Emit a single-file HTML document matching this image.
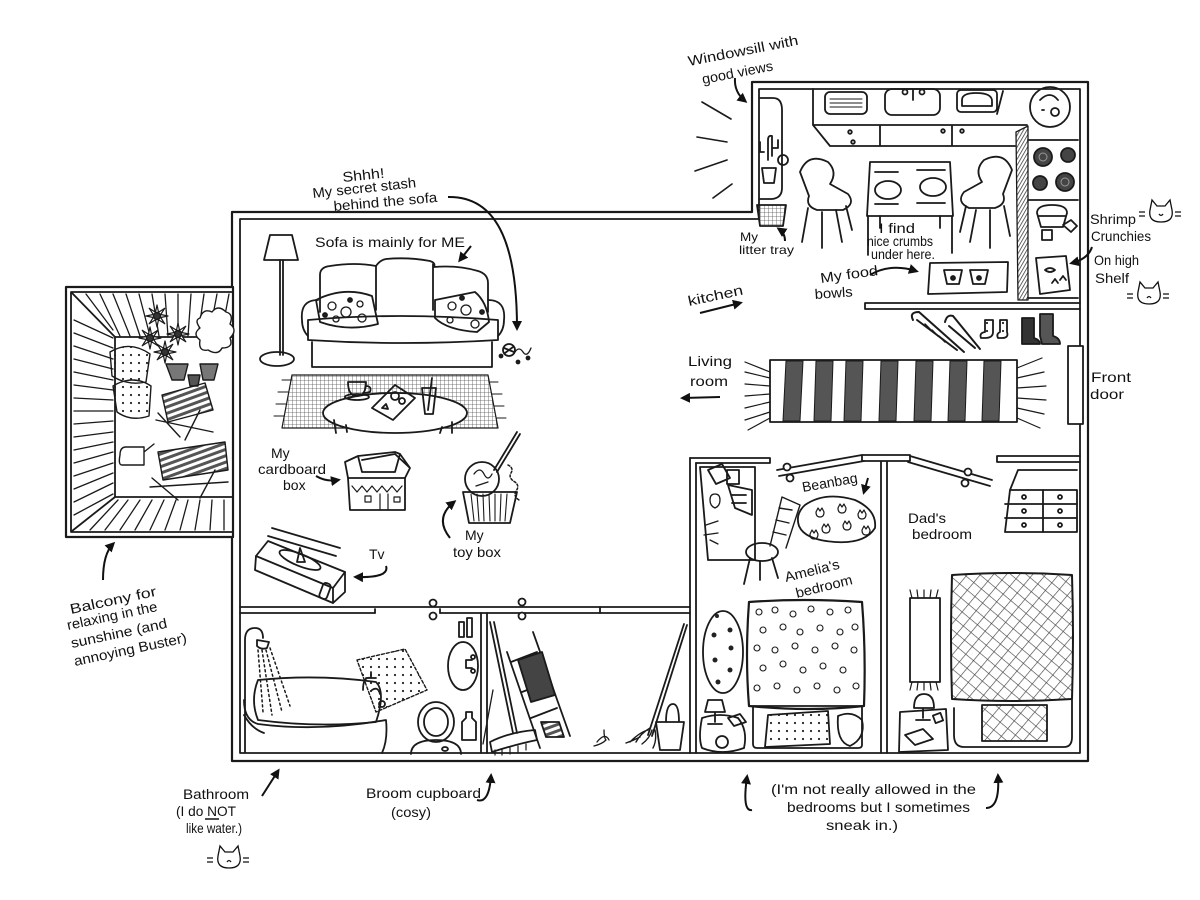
<!DOCTYPE html>
<html><head><meta charset="utf-8"><style>
html,body{margin:0;padding:0;background:#fff;}
svg{display:block}
text{font-family:"Liberation Sans",sans-serif;font-size:14px;fill:#111}
.s{font-size:12px}
</style></head><body>
<svg width="1200" height="900" viewBox="0 0 1200 900" xmlns="http://www.w3.org/2000/svg">
<defs>
<marker id="ah" viewBox="0 0 10 10" refX="7" refY="5" markerWidth="5" markerHeight="5" orient="auto"><path d="M0,0 L10,5 L0,10 Z" fill="#111"/></marker>
<pattern id="xh" width="10" height="10" patternUnits="userSpaceOnUse" patternTransform="rotate(40)"><path d="M0,0 H10 M0,0 V10" stroke="#444" stroke-width="1.3"/></pattern>
<pattern id="grid" width="4" height="4" patternUnits="userSpaceOnUse"><path d="M0,0H4M0,0V4" stroke="#555" stroke-width="0.8"/></pattern>
<pattern id="hatch" width="3" height="3" patternUnits="userSpaceOnUse" patternTransform="rotate(30)"><path d="M0,0V3" stroke="#333" stroke-width="1.5"/></pattern>
<pattern id="dots" width="8" height="8" patternUnits="userSpaceOnUse"><circle cx="3" cy="3" r="1.1" fill="#222"/></pattern>
<pattern id="stripe" width="6" height="6" patternUnits="userSpaceOnUse" patternTransform="rotate(-20)"><rect width="6" height="3" fill="#555"/></pattern>
<g id="fl"><path d="M11,0 L3.7,1.5 L7.8,7.8 L1.5,3.7 L0,11 L-1.5,3.7 L-7.8,7.8 L-3.7,1.5 L-11,0 L-3.7,-1.5 L-7.8,-7.8 L-1.5,-3.7 L0,-11 L1.5,-3.7 L7.8,-7.8 L3.7,-1.5 Z" fill="#fff" stroke="#1a1a1a" stroke-width="1.2"/><circle r="3.5" fill="#333"/></g>
</defs>

<g fill="none" stroke="#1a1a1a" stroke-width="1.8" stroke-linecap="round" stroke-linejoin="round">

<!-- ===== OUTER WALLS ===== -->
<path d="M232,212 H752 V82 H1088 V761 H232 Z" stroke-width="2.2"/>
<path d="M240,219 H759 V89 H1080 V753 H240 Z"/>
<rect x="1068" y="346" width="15" height="78" fill="#fff"/>

<!-- ===== BALCONY ===== -->
<rect x="66" y="287" width="167" height="250" fill="#fff" stroke-width="2.2"/>
<rect x="71" y="292" width="162" height="240"/>
<path d="M115,337 H233 M115,337 V497 H233"/>
<path d="M72,293 L115,337 M72,531 L115,497"/>
<g stroke-width="1.3">
<path d="M86,294 L113,330 M100,294 L120,336 M113,294 L130,336 M126,294 L140,336 M139,294 L150,336 M152,294 L159,336 M165,294 L168,336 M178,294 L178,336 M191,294 L188,336 M204,294 L198,336 M217,294 L209,336 M229,294 L221,336"/>
<path d="M74,320 L113,338 M74,333 L113,348 M74,346 L113,359 M74,359 L113,369 M74,372 L113,380 M74,385 L113,390 M74,398 L113,400 M74,411 L113,411 M74,424 L113,421 M74,437 L113,432 M74,450 L113,442 M74,463 L113,452 M74,476 L113,463 M74,489 L113,473 M74,502 L113,483 M74,515 L113,494"/>
<path d="M90,530 L118,500 M105,530 L128,500 M120,530 L140,500 M135,530 L152,500 M150,530 L164,500 M165,530 L176,500 M180,530 L188,500 M195,530 L200,500 M210,530 L212,500 M224,530 L224,500"/>
</g>
<!-- balcony items -->
<g stroke-width="1.4">
<use href="#fl" x="157" y="316"/>
<use href="#fl" x="150" y="338"/>
<use href="#fl" x="178" y="334"/>
<use href="#fl" x="165" y="352"/>
<path d="M166,364 L172,380 H184 L188,364 Z" fill="#777"/>
<path d="M200,364 L203,380 H214 L218,364 Z" fill="#777"/>
<path d="M188,375 L190,386 H198 L200,375 Z" fill="#555"/>
<path d="M200,318 q3,-10 12,-6 q6,-8 14,0 q8,2 4,12 q8,6 0,14 q4,10 -8,10 q-4,8 -14,2 q-10,2 -8,-10 q-8,-6 0,-12 q-6,-8 0,-10 z" fill="#fff"/>
<path d="M110,352 q20,-12 40,2 l-4,28 q-18,4 -34,-6 z" fill="url(#dots)"/>
<path d="M113,386 q20,-12 38,0 l-2,30 q-18,6 -32,-4 z" fill="url(#dots)"/>
<path d="M162,395 L205,383 L213,410 L168,422 Z" fill="url(#stripe)"/>
<path d="M156,420 L213,432 M158,413 L180,437 M200,410 L185,440"/>
<path d="M158,452 L225,442 L228,470 L163,480 Z" fill="url(#stripe)"/>
<path d="M150,487 L228,482 M152,478 L178,500 M215,470 L200,498"/>
<path d="M120,455 q0,-8 6,-8 h18 v18 h-22 q-4,0 -2,-10 M144,452 l10,-8"/>
</g>

<!-- ===== INTERIOR WALLS ===== -->
<path d="M240,607 H690 M240,613 H375 M440,613 H690"/>
<path d="M375,609 V613 M440,609 V613 M600,607 V613"/>
<circle cx="433" cy="603" r="3.5" fill="#fff"/><circle cx="433" cy="616" r="3.5" fill="#fff"/>
<circle cx="522" cy="602" r="3.5" fill="#fff"/><circle cx="522" cy="616" r="3.5" fill="#fff"/>
<path d="M481,613 V753 M487,613 V753"/>
<path d="M690,458 V753 M696,463 V753"/>
<path d="M881,462 V753 M887,462 V753"/>
<path d="M690,458 H770 M696,463 H770 M770,458 V463"/>
<path d="M777,470 L862,455 M779,476 L864,461" />
<circle cx="787" cy="467" r="3.5" fill="#fff"/><circle cx="790" cy="478" r="3.5" fill="#fff"/>
<path d="M862,455 H910 V461 H862 Z"/>
<path d="M910,456 L992,480 M908,462 L990,486"/>
<circle cx="968" cy="472" r="3.5" fill="#fff"/><circle cx="965" cy="483" r="3.5" fill="#fff"/>
<path d="M997,456 H1080 M997,462 H1080 M997,456 V462"/>
<path d="M865,303 H1080 M865,309 H1080 M865,303 V309"/>

<!-- ===== KITCHEN ===== -->
<path d="M702,102 L731,119 M697,137 L727,142 M695,171 L727,160 M713,198 L732,184" stroke-width="1.6"/>
<path d="M760,98 H773 Q782,98 782,110 V188 Q782,198 772,199 H760"/>
<path d="M768,160 v-20 q0,-5 4,-4 v20 M772,148 h6 v-8 M764,152 h-4 v-10"/>
<circle cx="783" cy="160" r="5"/>
<path d="M762,168 h14 l-2,15 h-10 z"/>
<path d="M757,205 H786 L783,226 H760 Z" fill="url(#grid)"/>
<path d="M813,89 V125 L830,146 H1015 M813,125 H1027 M880,125 V146 M952,125 V146"/>
<circle cx="850" cy="132" r="1.8"/><circle cx="853" cy="142" r="1.8"/><circle cx="943" cy="131" r="1.8"/><circle cx="962" cy="131" r="1.8"/>
<rect x="825" y="92" width="42" height="22" rx="5"/>
<path d="M830,99 H862 M830,103 H862 M830,107 H862" stroke-width="1"/>
<rect x="885" y="89" width="55" height="26" rx="7"/>
<circle cx="905" cy="92" r="2.5"/><circle cx="922" cy="92" r="2.5"/><path d="M913,90 V100"/>
<rect x="957" y="90" width="40" height="22" rx="4"/>
<path d="M962,100 q0,-7 14,-7 q16,0 16,8 v5 h-30 z"/>
<path d="M1003,91 L997,114"/>
<circle cx="1050" cy="107" r="20"/>
<path d="M1040,100 q10,-10 18,0 M1042,110 h2 M1055,112 m-4,0 a4,4 0 1,0 8,0 a4,4 0 1,0 -8,0"/>
<path d="M1016,132 L1028,126 V300 H1018 Z" fill="url(#hatch)" stroke-width="1.3"/>
<path d="M1028,140 H1078 M1028,200 H1078 M1028,298 H1078"/>
<circle cx="1043" cy="157" r="9" fill="#444"/><circle cx="1068" cy="155" r="7" fill="#444"/>
<circle cx="1040" cy="183" r="7" fill="#444"/><circle cx="1065" cy="182" r="9" fill="#444"/>
<circle cx="1043" cy="157" r="4" stroke="#999" stroke-width="1"/><circle cx="1065" cy="182" r="4" stroke="#999" stroke-width="1"/>
<path d="M1037,213 q0,-8 15,-8 q15,0 15,8 l-4,14 h-22 z M1039,216 H1065"/>
<path d="M1063,225 l8,-5 l6,6 l-6,6 z M1042,230 h10 v10 h-10 z"/>
<path d="M1036,258 L1066,256 L1070,290 L1040,294 Z"/>
<path d="M1045,270 q5,-4 10,0 q-5,4 -10,0 M1052,283 l3,-4 l3,4 M1060,280 l3,-4 l3,4"/>
<path d="M870,162 H950 L953,216 H867 Z"/>
<ellipse cx="888" cy="190" rx="13" ry="9"/><ellipse cx="933" cy="187" rx="13" ry="9"/>
<path d="M875,172 H898 M917,170 H945 M875,204 H898 M917,203 H945"/>
<path d="M868,216 V255 M952,216 V253 M880,216 V228 M940,216 V228"/>
<path d="M800,172 q8,-20 28,-10 q10,10 2,22 l18,10 q8,10 -5,16 h-26 q-12,-4 -8,-14 z"/>
<path d="M808,208 L802,242 M822,212 V248 M836,210 L842,242 M846,206 L852,230"/>
<path d="M1012,170 q-8,-20 -28,-10 q-10,10 -2,22 l-18,10 q-8,10 5,16 h26 q12,-4 8,-14 z"/>
<path d="M1004,206 L1010,236 M990,210 V248 M976,210 L970,242 M966,206 L960,232"/>
<path d="M930,263 L1008,262 L1007,292 L928,294 Z"/>
<path d="M944,270 h18 l-3,14 h-12 z M970,270 h18 l-3,14 h-12 z"/>
<circle cx="953" cy="278" r="2" fill="#222"/><circle cx="979" cy="278" r="2" fill="#222"/>
<path d="M913,320 q-4,-8 6,-8 l45,40 M917,320 l40,30 M945,322 q2,-8 8,-6 l27,33 M949,326 l26,22" stroke-width="2"/>
<path d="M925,324 l6,6 M932,330 l6,6 M939,336 l6,6" stroke-width="1.5"/>
<path d="M985,320 h8 v12 q0,6 -8,6 h-4 q-2,-5 4,-6 z M1000,320 h7 v12 q2,6 -5,6 h-4 q-2,-4 2,-6 z" fill="url(#dots)"/>
<path d="M1022,318 h12 v20 q6,2 6,6 h-18 z" fill="#333"/>
<path d="M1040,314 h13 v22 q7,2 7,8 h-18 q-2,-8 -2,-8 z" fill="#555"/>
<path d="M745,362 L770,372 M745,372 L770,378 M745,384 L770,386 M745,396 L770,394 M745,408 L770,402 M745,420 L770,412 M748,430 L770,418" stroke-width="1.2"/>
<path d="M1017,368 L1042,358 M1017,378 L1044,372 M1017,388 L1046,386 M1017,398 L1046,400 M1017,408 L1044,414 M1017,418 L1040,428" stroke-width="1.2"/>
<rect x="770" y="360" width="247" height="62"/>
<g fill="#555" stroke-width="1">
<path d="M786,361 h17 l-3,60 h-17 z"/><path d="M816,361 h17 l-2,60 h-17 z"/><path d="M846,361 h17 l-2,60 h-17 z"/>
<path d="M881,361 h17 l-2,60 h-17 z"/><path d="M916,361 h17 l-2,60 h-17 z"/><path d="M950,361 h17 l-2,60 h-17 z"/><path d="M984,361 h17 l-2,60 h-17 z"/>
</g>

<!-- ===== LIVING ROOM ===== -->
<path d="M270,235 H292 L298,260 H264 Z"/>
<path d="M280,260 V355 M283,260 V355"/>
<ellipse cx="277" cy="359" rx="17" ry="7"/>
<path d="M320,312 V275 q0,-8 10,-9 q25,-4 46,0 q4,-6 10,-7 q22,-2 44,2 q6,2 4,6 q24,-2 44,4 q10,3 10,12 V312"/>
<path d="M376,266 V310 M433,264 V310"/>
<path d="M318,300 q-18,0 -16,20 q0,10 6,16 M488,300 q18,0 16,20 q0,10 -6,16"/>
<path d="M308,320 q90,-8 190,0 v20 q-95,6 -190,0 z"/>
<path d="M312,342 V367 H492 V342"/>
<path d="M316,300 q28,-14 56,-4 l6,28 q-30,8 -58,-2 z"/>
<g fill="none" stroke-width="1.3"><circle cx="332" cy="306" r="4"/><circle cx="346" cy="312" r="5"/><circle cx="360" cy="304" r="3"/><circle cx="336" cy="319" r="3"/><circle cx="362" cy="318" r="4"/></g>
<circle cx="350" cy="300" r="2" fill="#222"/><circle cx="325" cy="315" r="2" fill="#222"/>
<path d="M435,300 l40,-8 q12,10 14,30 l-12,10 q-30,-2 -42,-14 z"/>
<g fill="none" stroke-width="1.3"><circle cx="452" cy="306" r="4"/><circle cx="466" cy="310" r="5"/><circle cx="475" cy="324" r="4"/><circle cx="450" cy="320" r="3"/></g>
<circle cx="462" cy="298" r="2" fill="#222"/><circle cx="482" cy="312" r="2" fill="#222"/>
<circle cx="509" cy="350" r="6"/><path d="M504,348 l10,4 M505,353 l8,-6"/>
<path d="M515,352 q4,-6 8,0 q4,6 8,-4" stroke-width="1.3"/>
<circle cx="501" cy="356" r="1.5" fill="#222"/><circle cx="518" cy="362" r="1.5" fill="#222"/><circle cx="528" cy="358" r="1.5" fill="#222"/>
<path d="M292,375 H488 L498,428 H282 Z" fill="url(#grid)" stroke-width="1.2"/>
<path d="M282,380 l10,0 M278,392 l10,0 M276,404 l10,0 M274,416 l10,0 M498,382 l-8,0 M502,394 l-10,0 M504,406 l-10,0 M506,418 l-10,0" stroke-width="1"/>
<ellipse cx="395" cy="413" rx="72" ry="20" fill="#fff"/>
<path d="M334,420 L336,433 M346,425 L347,432 M442,427 L440,433 M452,422 L452,433"/>
<path d="M348,382 h18 q0,14 -9,14 q-9,0 -9,-14 z M366,386 q6,0 4,6 l-5,1"/>
<ellipse cx="357" cy="397" rx="12" ry="3"/>
<path d="M372,408 L395,385 L415,398 L393,420 Z"/>
<circle cx="395" cy="396" r="4"/><circle cx="402" cy="401" r="3"/><path d="M382,408 l4,-4 l2,5 z"/>
<path d="M422,388 h14 l-3,26 h-8 z M432,378 L428,410"/>
<path d="M348,478 H405 V510 H350 Z"/>
<path d="M348,478 L345,462 L358,456 L362,472 M362,472 H395 L400,454 L410,468 L405,478 M362,460 L395,454 M395,454 L410,468 M362,472 L358,456 L395,452 L400,454"/>
<path d="M352,486 l5,6 l5,-6 l5,6 l5,-6 l5,6 l5,-6 l5,6 l5,-6 l5,6 l5,-6" stroke-width="1.2"/>
<path d="M365,496 h6 v6 h-6 z M380,494 v16 M388,494 v16 M394,497 h6 v5 h-6 z" stroke-width="1.2"/>
<path d="M463,492 H517 L510,523 H469 Z"/>
<path d="M471,494 L474,521 M477,494 L479,521 M483,494 L484,521 M489,494 L490,521 M495,494 L495,521 M501,494 L500,521 M507,494 L505,521" stroke-width="1.1"/>
<circle cx="482" cy="479" r="17"/>
<path d="M474,474 q6,-8 10,0 q4,8 8,0 M476,486 l12,-4" stroke-width="1.3"/>
<path d="M494,470 L517,432 M497,472 L520,434"/>
<path d="M508,465 q6,3 3,8 q-3,5 4,9 q5,4 1,9 q-3,5 3,9" stroke-width="1.5" stroke-dasharray="2 2"/>
<path d="M256,556 L268,541 L345,572 L345,592 L333,603 L255,570 Z"/>
<path d="M256,556 L333,588 L345,572 M333,588 V603"/>
<path d="M272,528 L340,548 M268,536 L336,556"/>
<ellipse cx="300" cy="560" rx="22" ry="6" transform="rotate(22 300 560)"/>
<path d="M300,548 L297,562 H305 Z"/>
<rect x="321" y="583" width="8" height="16" rx="3" transform="rotate(20 325 591)"/>

<!-- ===== BATHROOM ===== -->
<path d="M245,752 V640 q0,-12 10,-12 q8,0 8,10"/>
<path d="M257,640 l12,2 l-2,6 q-6,2 -10,-2 z"/>
<path d="M262,650 L272,715 M266,650 L282,712 M270,648 L290,706 M258,650 L263,712" stroke-dasharray="2 3" stroke-width="1.5"/>
<path d="M258,680 q60,-6 118,2 q10,10 0,40 q-58,6 -118,-2 q-8,-20 0,-40 z"/>
<path d="M244,700 q0,20 14,24 q60,8 128,-4 q2,20 -4,33 M244,715 q8,14 20,18"/>
<path d="M363,690 q0,-14 8,-12 v-6 M366,678 h10 M372,690 q6,-4 8,4"/>
<circle cx="382" cy="704" r="3"/>
<path d="M357,660 L405,649 L427,690 L376,712 Z" fill="url(#dots)" stroke-dasharray="3 2" stroke-width="1.4"/>
<ellipse cx="463" cy="666" rx="15" ry="24"/>
<path d="M472,660 h-6 v8 h6"/>
<circle cx="473" cy="657" r="2"/><circle cx="473" cy="671" r="2"/>
<path d="M459,622 h5 v15 h-5 z M467,618 h5 v19 h-5 z"/>
<ellipse cx="436" cy="722" rx="18" ry="20"/>
<ellipse cx="436" cy="722" rx="12" ry="14"/>
<path d="M411,754 q0,-14 25,-14 q25,0 25,14"/>
<ellipse cx="445" cy="749" rx="3" ry="2"/>
<path d="M466,712 h6 v6 l4,4 v18 h-14 v-18 l4,-4 z"/>

<!-- ===== BROOM CUPBOARD ===== -->
<path d="M490,622 L513,733 M494,622 L517,733"/>
<path d="M490,742 q20,-10 45,-12 l2,10 q-20,4 -45,12 z"/>
<path d="M495,750 v5 M502,749 v6 M510,748 v6 M518,746 v6 M526,744 v6" stroke-width="1.2"/>
<path d="M507,652 L540,748 M533,632 L570,736 M511,662 L537,652 M522,692 L548,682 M531,718 L557,708"/>
<path d="M518,660 L542,652 L555,695 L531,702 Z" fill="#444"/>
<path d="M541,722 h18 l5,15 h-18 z" fill="url(#stripe)"/>
<path d="M493,690 L483,744" stroke-width="1.3"/>
<path d="M684,624 L648,735 M687,625 L652,736"/>
<path d="M650,728 q-10,6 -14,14 M648,730 q-8,2 -18,12 M652,730 q-2,8 -10,14 M655,730 q2,10 -2,18 M640,737 q-8,4 -14,6" stroke-width="1.4"/>
<path d="M597,742 q8,-10 12,-2 M604,730 q0,8 2,10 q-4,4 -12,6" stroke-width="1.3"/>
<path d="M656,722 h28 l-4,28 h-20 z M666,722 q0,-18 7,-18 q6,0 6,18"/>

<!-- ===== AMELIA ===== -->
<path d="M700,467 H755 V560 H708 Z"/>
<path d="M708,470 l14,-6 l8,14 l-14,6 z M727,470 h12 v14 h-12 z"/>
<path d="M728,485 L752,490 V515 L735,508 Z M732,495 h14 M732,503 h14"/>
<path d="M710,500 q0,-6 5,-6 q5,0 5,6 q0,6 -5,8 q-5,-2 -5,-8 z" stroke-width="1.3"/>
<path d="M706,525 l12,-4 M704,535 l14,-2 M710,540 l8,4" stroke-width="1.3"/>
<ellipse cx="762" cy="552" rx="16" ry="9"/>
<path d="M750,558 L744,584 M760,561 L760,580 M772,558 L778,578"/>
<path d="M770,546 L782,497 L800,505 L786,548 M779,508 L792,510 M776,520 L789,523 M773,532 L786,535" stroke-width="1.4"/>
<path d="M805,505 q20,-14 50,-5 q22,10 20,28 q-10,16 -40,14 q-30,-2 -36,-16 q-4,-12 6,-21 z"/>
<g stroke-width="1.2">
<path d="M816,512 l2,-4 l2,3 l2,-3 l2,4 q0,5 -4,5 q-4,0 -4,-5 z M838,508 l2,-4 l2,3 l2,-3 l2,4 q0,5 -4,5 q-4,0 -4,-5 z M858,514 l2,-4 l2,3 l2,-3 l2,4 q0,5 -4,5 q-4,0 -4,-5 z M822,528 l2,-4 l2,3 l2,-3 l2,4 q0,5 -4,5 q-4,0 -4,-5 z M843,525 l2,-4 l2,3 l2,-3 l2,4 q0,5 -4,5 q-4,0 -4,-5 z M862,530 l2,-4 l2,3 l2,-3 l2,4 q0,5 -4,5 q-4,0 -4,-5 z M810,534 l2,-4 l2,3 l2,-3 l2,4 q0,5 -4,5 q-4,0 -4,-5 z"/>
</g>
<ellipse cx="723" cy="652" rx="20" ry="41"/>
<g fill="#222" stroke="none"><circle cx="714" cy="635" r="2.5"/><circle cx="730" cy="630" r="2.5"/><circle cx="731" cy="648" r="2.5"/><circle cx="715" cy="660" r="2.5"/><circle cx="730" cy="670" r="2.5"/><circle cx="718" cy="682" r="2.5"/><circle cx="717" cy="616" r="2"/></g>
<path d="M749,602 q55,-4 113,0 q4,50 2,104 q-55,6 -115,0 q-4,-50 0,-104 z" stroke-width="2.2"/>
<g stroke-width="1.1">
<circle cx="759" cy="612" r="3"/><circle cx="775" cy="610" r="3"/><circle cx="793" cy="614" r="3"/><circle cx="811" cy="609" r="3"/><circle cx="830" cy="612" r="3"/><circle cx="848" cy="610" r="3"/>
<circle cx="763" cy="630" r="3"/><circle cx="783" cy="627" r="3"/><circle cx="800" cy="632" r="3"/><circle cx="820" cy="628" r="3"/><circle cx="840" cy="632" r="3"/><circle cx="855" cy="627" r="3"/>
<circle cx="757" cy="648" r="3"/><circle cx="775" cy="650" r="3"/><circle cx="795" cy="646" r="3"/><circle cx="815" cy="650" r="3"/><circle cx="835" cy="646" r="3"/><circle cx="854" cy="650" r="3"/>
<circle cx="763" cy="668" r="3"/><circle cx="783" cy="664" r="3"/><circle cx="803" cy="670" r="3"/><circle cx="823" cy="666" r="3"/><circle cx="843" cy="670" r="3"/>
<circle cx="757" cy="688" r="3"/><circle cx="777" cy="686" r="3"/><circle cx="797" cy="690" r="3"/><circle cx="817" cy="686" r="3"/><circle cx="837" cy="690" r="3"/><circle cx="856" cy="686" r="3"/>
</g>
<path d="M753,706 H862 V745 Q862,748 858,748 H757 Q753,748 753,744 Z"/>
<path d="M768,715 L828,711 L830,744 L765,747 Z" fill="url(#dots)"/>
<path d="M838,716 q14,-6 24,4 q4,18 -12,26 q-14,-4 -12,-30 z"/>
<path d="M702,718 q-4,20 0,30 q20,8 42,0 q4,-18 -6,-30 q-18,-6 -36,0 z"/>
<path d="M708,700 h14 l3,12 h-20 z M715,712 v10 M708,724 h14"/>
<path d="M728,718 l12,-4 l6,8 l-12,4 z"/>
<circle cx="722" cy="742" r="6"/>

<!-- ===== DAD ===== -->
<path d="M1010,490 L1005,532 H1077 V490 Z M1010,490 L1018,470 H1077"/>
<path d="M1005,504 H1077 M1005,518 H1077 M1043,490 V532"/>
<circle cx="1024" cy="497" r="2"/><circle cx="1024" cy="511" r="2"/><circle cx="1024" cy="525" r="2"/><circle cx="1060" cy="497" r="2"/><circle cx="1060" cy="511" r="2"/><circle cx="1060" cy="525" r="2"/>
<rect x="910" y="598" width="30" height="84"/>
<path d="M912,598 l-2,-8 M918,598 l-1,-8 M924,598 v-8 M930,598 l1,-8 M936,598 l2,-8 M912,682 l-2,8 M918,682 l-1,8 M924,682 v8 M930,682 l1,8 M936,682 l2,8" stroke-width="1.2"/>
<path d="M954,708 V735 q0,12 10,12 h100 q8,0 8,-10 V700"/>
<path d="M952,575 q60,-4 120,0 q2,62 0,124 q-60,4 -120,0 q-2,-60 0,-124 z" fill="url(#xh)" stroke-width="2"/>
<rect x="982" y="705" width="65" height="36" fill="url(#xh)"/>
<path d="M900,712 L946,709 L948,750 L899,752 Z"/>
<path d="M914,708 q0,-14 10,-14 q10,0 10,14 z M923,708 v10 M916,720 h14"/>
<path d="M905,735 l18,-6 l10,10 l-18,6 z"/>
<rect x="934" y="714" width="8" height="8" transform="rotate(-20 938 718)"/>
</g>

<!-- ===== ARROWS ===== -->
<g fill="none" stroke="#111" stroke-width="2" marker-end="url(#ah)">
<path d="M735,78 Q734,92 745,101"/>
<path d="M448,197 C495,196 517,240 517,328"/>
<path d="M471,246 L460,260"/>
<path d="M700,313 L740,303"/>
<path d="M720,397 L683,398"/>
<path d="M785,241 q0,-8 -6,-12"/>
<path d="M870,275 q20,-12 46,-4"/>
<path d="M1092,247 q-4,12 -20,16"/>
<path d="M316,476 q10,6 22,4"/>
<path d="M450,538 q-16,-20 4,-36"/>
<path d="M386,566 q4,12 -30,11"/>
<path d="M868,478 L864,492"/>
<path d="M103,580 q0,-26 10,-36"/>
<path d="M262,796 L278,771"/>
<path d="M477,800 q12,4 14,-24"/>
<path d="M752,810 q-10,2 -5,-33"/>
<path d="M986,808 q14,0 12,-32"/>
</g>

<!-- ===== TEXT ===== -->
<g>
<text transform="translate(689,66) rotate(-11)" textLength="112" lengthAdjust="spacingAndGlyphs">Windowsill with</text>
<text transform="translate(703,84) rotate(-11)" textLength="72" lengthAdjust="spacingAndGlyphs">good views</text>
<text transform="translate(343,182) rotate(-6)" textLength="42" lengthAdjust="spacingAndGlyphs">Shhh!</text>
<text transform="translate(313,198) rotate(-6)" textLength="104" lengthAdjust="spacingAndGlyphs">My secret stash</text>
<text transform="translate(334,211) rotate(-5)" textLength="104" lengthAdjust="spacingAndGlyphs">behind the sofa</text>
<text x="315" y="247" textLength="150" lengthAdjust="spacingAndGlyphs">Sofa is mainly for ME</text>
<text transform="translate(689,306) rotate(-12)" textLength="56" lengthAdjust="spacingAndGlyphs">kitchen</text>
<text x="688" y="366" textLength="44" lengthAdjust="spacingAndGlyphs">Living</text>
<text x="690" y="386" textLength="38" lengthAdjust="spacingAndGlyphs">room</text>
<text x="1091" y="382" textLength="40" lengthAdjust="spacingAndGlyphs">Front</text>
<text x="1090" y="399" textLength="34" lengthAdjust="spacingAndGlyphs">door</text>
<text x="1090" y="224" textLength="46" lengthAdjust="spacingAndGlyphs">Shrimp</text>
<text x="1091" y="241" textLength="60" lengthAdjust="spacingAndGlyphs">Crunchies</text>
<text x="1094" y="265" textLength="45" lengthAdjust="spacingAndGlyphs">On high</text>
<text x="1095" y="283" textLength="34" lengthAdjust="spacingAndGlyphs">Shelf</text>
<text transform="translate(821,283) rotate(-8)" textLength="58" lengthAdjust="spacingAndGlyphs">My food</text>
<text transform="translate(815,299) rotate(-4)" textLength="38" lengthAdjust="spacingAndGlyphs">bowls</text>
<text x="879" y="233" textLength="36" lengthAdjust="spacingAndGlyphs">I find</text>
<text x="867" y="246" textLength="66" lengthAdjust="spacingAndGlyphs">nice crumbs</text>
<text x="871" y="259" textLength="64" lengthAdjust="spacingAndGlyphs">under here.</text>
<text x="740" y="241" textLength="18" lengthAdjust="spacingAndGlyphs" style="font-size:12px">My</text>
<text x="739" y="254" textLength="55" lengthAdjust="spacingAndGlyphs" style="font-size:12px">litter tray</text>
<text x="271" y="458">My</text>
<text x="258" y="474" textLength="68" lengthAdjust="spacingAndGlyphs">cardboard</text>
<text x="283" y="490">box</text>
<text x="465" y="540">My</text>
<text x="453" y="557" textLength="48" lengthAdjust="spacingAndGlyphs">toy box</text>
<text x="369" y="559">Tv</text>
<text transform="translate(803,492) rotate(-10)" textLength="56" lengthAdjust="spacingAndGlyphs">Beanbag</text>
<text transform="translate(786,582) rotate(-14)" textLength="56" lengthAdjust="spacingAndGlyphs">Amelia's</text>
<text transform="translate(797,598) rotate(-14)" textLength="58" lengthAdjust="spacingAndGlyphs">bedroom</text>
<text x="908" y="523" textLength="38" lengthAdjust="spacingAndGlyphs">Dad's</text>
<text x="912" y="539" textLength="60" lengthAdjust="spacingAndGlyphs">bedroom</text>
<text transform="translate(71,614) rotate(-12)" textLength="88" lengthAdjust="spacingAndGlyphs">Balcony for</text>
<text transform="translate(68,630) rotate(-12)" textLength="92" lengthAdjust="spacingAndGlyphs">relaxing in the</text>
<text transform="translate(72,648) rotate(-12)" textLength="98" lengthAdjust="spacingAndGlyphs">sunshine (and</text>
<text transform="translate(75,666) rotate(-12)" textLength="115" lengthAdjust="spacingAndGlyphs">annoying Buster)</text>
<text x="183" y="799" textLength="66" lengthAdjust="spacingAndGlyphs">Bathroom</text>
<text x="176" y="816" textLength="60" lengthAdjust="spacingAndGlyphs">(I do NOT</text>
<text x="186" y="833" textLength="56" lengthAdjust="spacingAndGlyphs">like water.)</text>
<text x="366" y="798" textLength="115" lengthAdjust="spacingAndGlyphs">Broom cupboard</text>
<text x="391" y="817" textLength="40" lengthAdjust="spacingAndGlyphs">(cosy)</text>
<text x="771" y="794" textLength="205" lengthAdjust="spacingAndGlyphs">(I'm not really allowed in the</text>
<text x="787" y="812" textLength="183" lengthAdjust="spacingAndGlyphs">bedrooms but I sometimes</text>
<text x="826" y="830" textLength="72" lengthAdjust="spacingAndGlyphs">sneak in.)</text>
</g>
<path d="M205,819 h14" stroke="#111" stroke-width="1.5"/>

<!-- cats -->
<g fill="none" stroke="#111" stroke-width="1.3">
<path d="M1150,210 l2,-10 l5,6 h8 l5,-6 l2,10 q2,12 -11,12 q-13,0 -11,-12 z M1159,214 q2,3 4,0 M1145,212 h-6 M1145,216 h-6 M1175,212 h6 M1175,216 h6"/>
<path d="M1138,292 l2,-10 l5,6 h8 l5,-6 l2,10 q2,12 -11,12 q-13,0 -11,-12 z M1147,298 q2,-3 4,0 M1133,294 h-6 M1133,298 h-6 M1163,294 h6 M1163,298 h6"/>
<path d="M218,856 l2,-10 l5,6 h8 l5,-6 l2,10 q2,12 -11,12 q-13,0 -11,-12 z M227,862 q2,-3 4,0 M213,858 h-6 M213,862 h-6 M243,858 h6 M243,862 h6"/>
</g>
</svg>
</body></html>
